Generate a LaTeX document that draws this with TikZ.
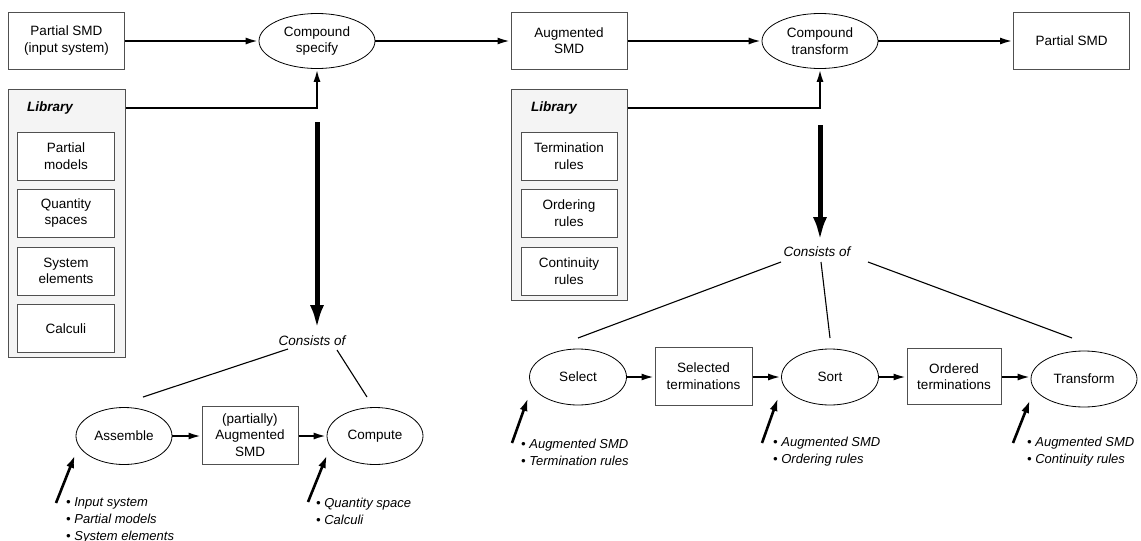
\documentclass[tikz,border=0pt]{standalone}
\usepackage{fontspec}
\setmainfont{Liberation Sans}
\usetikzlibrary{arrows.meta,shapes.geometric}
\definecolor{libfill}{HTML}{F4F4F4}
\definecolor{boxline}{HTML}{505050}
\begin{document}
\begin{tikzpicture}[x=1pt,y=-1pt,
  every node/.style={font=\fontsize{13.5}{16.5}\selectfont, align=center, inner sep=0pt},
  box/.style={draw=boxline, line width=1pt, fill=white, minimum width=116pt, minimum height=57pt},
  inbox/.style={draw=boxline, line width=1pt, fill=white, minimum width=97pt, minimum height=48pt},
  libbox/.style={draw=boxline, line width=1pt, fill=libfill},
  proc/.style={draw=black, line width=0.8pt, ellipse, minimum width=116pt, minimum height=55pt},
  sproc/.style={draw=black, line width=0.8pt, ellipse, minimum width=97pt, minimum height=56pt},
  conn/.style={line width=2.3pt, -{Latex[length=13pt,width=7pt]}},
  inarrow/.style={line width=2.6pt, -{Latex[length=13pt,width=8pt]}},
  bigarrow/.style={line width=5pt, -{Latex[length=24pt,width=14pt]}},
  thin/.style={line width=1.1pt},
  bul/.style={font=\fontsize{13}{17}\selectfont\itshape, align=left, anchor=west},
  libtitle/.style={font=\fontsize{13.5}{16}\selectfont\bfseries\itshape},
  cons/.style={font=\fontsize{13.5}{16}\selectfont\itshape}
]
\useasboundingbox (0,0) rectangle (1141,541);

% ---------- top row ----------
\node[box] (psmd) at (66.5,40.5) {Partial SMD\\(input system)};
\node[proc] (cs) at (317,41) {Compound\\specify};
\node[box] (asmd) at (569,40.5) {Augmented\\SMD};
\node[proc] (ct) at (820,41) {Compound\\transform};
\node[box] (osmd) at (1071.5,40.5) {Partial SMD};

\draw[conn] (psmd.east |- cs) -- (cs.west);
\draw[conn] (cs.east) -- (asmd.west |- cs);
\draw[conn] (asmd.east |- ct) -- (ct.west);
\draw[conn] (ct.east) -- (osmd.west |- ct);

% ---------- libraries ----------
\node[libbox, minimum width=117pt, minimum height=268pt] (lib1) at (66.5,223) {};
\node[libtitle] (lt1) at (50,108) {Library};
\node[inbox] (pm) at (66,156) {Partial\\models};
\node[inbox] (qs) at (66,213) {Quantity\\spaces};
\node[inbox] (se) at (66,271) {System\\elements};
\node[inbox] (ca) at (66,328.5) {Calculi};

\node[libbox, minimum width=116pt, minimum height=211pt] (lib2) at (569,194.5) {};
\node[libtitle] (lt2) at (554,108) {Library};
\node[inbox, minimum width=96pt] (tr) at (569,156) {Termination\\rules};
\node[inbox, minimum width=96pt] (or) at (569,213) {Ordering\\rules};
\node[inbox, minimum width=96pt] (cr) at (569,271) {Continuity\\rules};

\draw[conn] (lib1.east |- lt1) -| (cs.south);
\draw[conn] (lib2.east |- lt2) -| (ct.south);

% ---------- left decomposition ----------
\coordinate (t1) at (317,122);
\node[cons] (cons1) at (312,341) {Consists of};
\draw[bigarrow] (t1) -- (317,329);

\node[sproc, minimum width=96pt, minimum height=57pt] (asm) at (124,436) {Assemble};
\node[box, minimum width=96pt, minimum height=58pt] (pas) at (250,435) {(partially)\\Augmented\\SMD};
\node[sproc, minimum width=96pt, minimum height=57pt] (cmp) at (375,436) {Compute};

\draw[conn] (asm.east) -- (pas.west |- asm);
\draw[conn] (pas.east |- cmp) -- (cmp.west);

\coordinate (l1a) at (288,349); \coordinate (l1b) at (143,397);
\coordinate (l2a) at (337,350); \coordinate (l2b) at (367,397);
\draw[thin] (l1a) -- (l1b);
\draw[thin] (l2a) -- (l2b);

\coordinate (ia1) at (56,503); \coordinate (ib1) at (75,455);
\draw[inarrow] (ia1) -- (ib1);
\node[bul] (b1) at (66,520) {\textbullet\ Input system\\\textbullet\ Partial models\\\textbullet\ System elements};
\coordinate (ia2) at (308,502); \coordinate (ib2) at (327,455);
\draw[inarrow] (ia2) -- (ib2);
\node[bul] (b2) at (316,511) {\textbullet\ Quantity space\\\textbullet\ Calculi};

% ---------- right decomposition ----------
\coordinate (t2) at (820,125);
\node[cons] (cons2) at (817,252) {Consists of};
\draw[bigarrow] (t2) -- (820,241);

\node[sproc] (sel) at (578,377) {Select};
\node[box, minimum width=97pt, minimum height=58pt] (selt) at (703.5,376) {Selected\\terminations};
\node[sproc] (srt) at (830,377) {Sort};
\node[box, minimum width=94pt, minimum height=56pt] (ordt) at (954,376.5) {Ordered\\terminations};
\node[sproc, minimum width=106pt] (trf) at (1084,379) {Transform};

\draw[conn] (sel.east) -- (selt.west |- sel);
\draw[conn] (selt.east |- srt) -- (srt.west);
\draw[conn] (srt.east) -- (ordt.west |- srt);
\draw[conn] (ordt.east |- srt) -- (trf.west |- srt);

\coordinate (r1a) at (781,262); \coordinate (r1b) at (578,338);
\coordinate (r2a) at (821,262); \coordinate (r2b) at (830,338);
\coordinate (r3a) at (868,262); \coordinate (r3b) at (1072,338);
\draw[thin] (r1a) -- (r1b);
\draw[thin] (r2a) -- (r2b);
\draw[thin] (r3a) -- (r3b);

\coordinate (ja1) at (512,443); \coordinate (jb1) at (528,398);
\draw[inarrow] (ja1) -- (jb1);
\node[bul] (c1) at (521,452) {\textbullet\ Augmented SMD\\\textbullet\ Termination rules};
\coordinate (ja2) at (762,443); \coordinate (jb2) at (778,398);
\draw[inarrow] (ja2) -- (jb2);
\node[bul] (c2) at (773,452) {\textbullet\ Augmented SMD\\\textbullet\ Ordering rules};
\coordinate (ja3) at (1013,443); \coordinate (jb3) at (1030,400);
\draw[inarrow] (ja3) -- (jb3);
\node[bul] (c3) at (1027,452) {\textbullet\ Augmented SMD\\\textbullet\ Continuity rules};
\end{tikzpicture}
\end{document}
